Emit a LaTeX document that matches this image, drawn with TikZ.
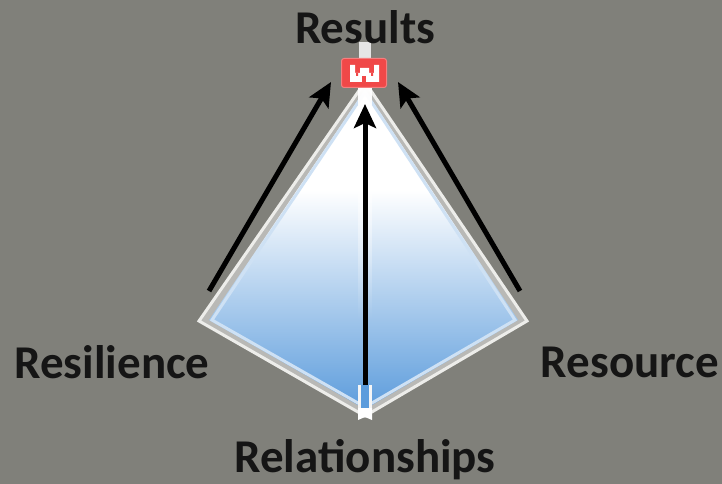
\documentclass[tikz,border=0pt]{standalone}
\usepackage{fontspec}
\setmainfont{Carlito}
\usetikzlibrary{arrows.meta,fadings}
\definecolor{bgc}{HTML}{80807A}
\definecolor{txtc}{HTML}{151515}
\definecolor{bluec}{HTML}{5C9CDC}
\definecolor{castle}{HTML}{F04848}
\definecolor{edgec}{HTML}{EDEDEA}
\tikzset{
  lab/.style={font=\fontsize{47}{50}\selectfont\bfseries,text=txtc,inner sep=0pt,anchor=center},
  arr/.style={line width=5pt,black,-{Stealth[length=24pt,width=22pt,inset=5pt]}},
  rim/.style={draw=edgec,line width=3pt,line join=miter},
}
\begin{document}
\begin{tikzpicture}[x=1pt,y=-1pt]
\path[use as bounding box,fill=bgc] (0,0) rectangle (722,484);
\coordinate (top) at (365,82);
\coordinate (L) at (199,321);
\coordinate (R) at (527,321);
\coordinate (B) at (365,416);
% grey gap band between outer and inner rim
\fill[white!45!bgc] (top) -- (L) -- (B) -- (R) -- cycle;
\begin{scope}
\clip (365,90) -- (209,320) -- (365,409) -- (518,320) -- cycle;
\shade[top color=white,bottom color=bluec,shading angle=0] (190,190) rectangle (540,410);
\fill[white] (190,80) rectangle (540,191);
\end{scope}
\draw[draw=white!70!bluec,line width=3pt,line join=miter] (365,92) -- (212,320) -- (365,407) -- (515,320) -- cycle;
\draw[rim] (top) -- (L) -- (B) -- (R) -- cycle;
% central mast
\fill[white!80!gray] (359,42) rectangle (371,60);
\fill[white,path fading=south] (358,85) rectangle (372,320);
\fill[white!92!gray] (358,385) rectangle (372,410);
\fill[bluec] (361,385) rectangle (369,408);
\fill[white] (358,408) -- (372,408) -- (372,420) -- (365,417) -- (358,420) -- cycle;
% castle badge
\node[fill=castle,draw=castle!70!white,line width=1pt,rounded corners=2.5pt,minimum width=45pt,minimum height=29pt,inner sep=0pt] (badge) at (364,73) {};
\fill[white] (350,65) rectangle (355,82) (360,68) rectangle (369,82) (374,65) rectangle (379,82) (350,73) rectangle (379,82);
\fill[castle] (362,76) rectangle (366,82);
\fill[castle] (356,73) rectangle (358,76) (371,73) rectangle (373,76);
% labels
\node[lab] (results) at (365,27) {Results};
\node[lab] (resilience) at (112,362) {Resilience};
\node[lab] (resource) at (630,362) {Resource};
\node[lab] (relationships) at (365,460) {Relationships};
% arrows
\coordinate (a1) at (209,291);
\coordinate (a1e) at (331,82);
\coordinate (a2) at (520,291);
\coordinate (a2e) at (398,82);
\coordinate (a3) at (365,385);
\coordinate (a3e) at (365,104);
\draw[arr] (a1) -- (a1e);
\draw[arr] (a2) -- (a2e);
\draw[arr] (a3) -- (a3e);
\end{tikzpicture}
\end{document}
